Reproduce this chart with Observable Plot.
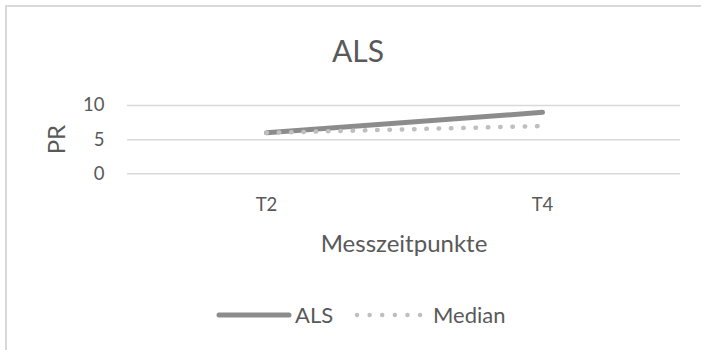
<!DOCTYPE html>
<html>
<head>
<meta charset="utf-8">
<script src="https://cdn.jsdelivr.net/npm/d3@7"></script>
<script src="https://cdn.jsdelivr.net/npm/@observablehq/plot@0.6"></script>
<style>
  body { margin: 0; background: #fff; }
  #chart { position: relative; width: 701px; height: 350px; overflow: hidden; font-family: Lato, "Open Sans", sans-serif; color: #595959; }
  .frame-top { position: absolute; left: 5px; top: 5px; right: 0; height: 2px; background: #d9d9d9; }
  .frame-left { position: absolute; left: 5px; top: 5px; bottom: 0; width: 2px; background: #d9d9d9; }
  #title { position: absolute; left: 0; width: 716px; top: 35px; text-align: center; font-size: 30px; line-height: 30px; }
  #plot { position: absolute; left: 0; top: 80px; }
  #plot svg g[aria-label="x-axis tick label"],
  #plot svg g[aria-label="y-axis tick label"] { font-size: 18.5px; }
  .legend-item { position: absolute; top: 303px; height: 24px; display: flex; align-items: center; font-size: 22px; line-height: 24px; }
  .legend-item svg { display: block; }
</style>
</head>
<body>
<div id="chart">
  <div class="frame-top"></div>
  <div class="frame-left"></div>
  <div id="title">ALS</div>
  <div id="plot"></div>
  <div class="legend-item" style="left:216px">
    <svg width="76" height="24"><line x1="3" y1="12" x2="73" y2="12" stroke="#8c8c8c" stroke-width="5" stroke-linecap="round"/></svg>
    <span style="margin-left:3px">ALS</span>
  </div>
  <div class="legend-item" style="left:353px">
    <svg width="72" height="24"><line x1="4" y1="12" x2="68" y2="12" stroke="#bfbfbf" stroke-width="4.5" stroke-linecap="round" stroke-dasharray="0.01 12.6"/></svg>
    <span style="margin-left:8px">Median</span>
  </div>
</div>
<script>
// Messzeitpunkte and PR values per series
const categories = ["T2", "T4"];
const alsValues = [6, 9];
const medianValues = [6, 7];
const yTicks = [0, 5, 10];

const alsRows = categories.map((t, i) => ({ t, v: alsValues[i] }));
const medianRows = categories.map((t, i) => ({ t, v: medianValues[i] }));

const chart = Plot.plot({
  width: 701,
  height: 190,
  marginLeft: 127,
  marginRight: 21,
  marginTop: 25,
  marginBottom: 96.7,
  x: { type: "point", domain: categories, padding: 0.5 },
  y: { domain: [0, 10] },
  style: { fontFamily: "Lato, 'Open Sans', sans-serif", fontSize: "18.5px", color: "#595959", background: "transparent", overflow: "visible" },
  marks: [
    Plot.gridY(yTicks, { stroke: "#d9d9d9", strokeOpacity: 1, strokeWidth: 1.5 }),
    Plot.axisY(yTicks, { tickSize: 0, tickPadding: 23, label: null, fontSize: 18.5 }),
    Plot.axisX({ tickSize: 0, tickPadding: 24, label: null, fontSize: 18.5 }),
    Plot.text(["PR"], { frameAnchor: "left", dx: -70, rotate: -90, textAnchor: "middle", lineAnchor: "middle", fontSize: 24 }),
    Plot.text(["Messzeitpunkte"], { frameAnchor: "bottom", dy: 70.7, textAnchor: "middle", lineAnchor: "middle", fontSize: 24 }),
    Plot.line(alsRows, { x: "t", y: "v", stroke: "#8c8c8c", strokeWidth: 5, strokeLinecap: "round" }),
    Plot.line(medianRows, { x: "t", y: "v", stroke: "#bfbfbf", strokeWidth: 4.5, strokeLinecap: "round", strokeDasharray: "0.5 11.8" })
  ]
});
document.getElementById("plot").append(chart);
</script>
</body>
</html>
